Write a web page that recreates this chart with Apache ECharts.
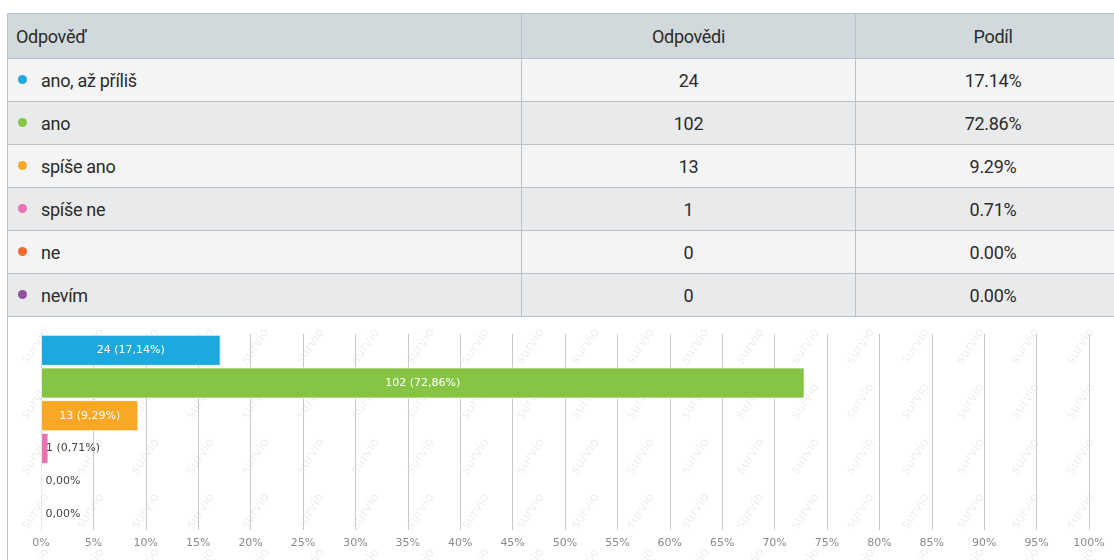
<!doctype html>
<html>
<head>
<meta charset="utf-8">
<title>Odpověď</title>
<script src="https://cdn.jsdelivr.net/npm/echarts@6/dist/echarts.min.js"></script>
<style>
    html,body{
        margin: 0;
        width: 1114px;
        height: 560px;
        overflow: hidden;
        background: #fff;
    }
    .result-table{
        position: absolute;
        left: 7px;
        top: 13px;
        width: 1124px;
        table-layout: fixed;
        border-collapse: collapse;
        font-family: Roboto, "Noto Sans", sans-serif;
        font-size: 18px;
        letter-spacing: -0.3px;
        color: #2b2b2b;
    }
    .result-table td, .result-table th{
        border: 1px solid #b7c3c8;
        padding: 0;
        font-weight: normal;
    }
    .result-table th{
        height: 44px;
        background: #d1d9dc;
    }
    .result-table td{
        height: 42px;
    }
    .result-table tr:nth-child(odd) td{ background: #f4f4f4; }
    .result-table tr:nth-child(even) td{ background: #e8eaeb; }
    .result-table .c1{ width: 505px; text-align: left; padding-left: 8px; }
    .result-table .c2{ width: 333px; text-align: center; }
    .result-table .c3{ text-align: center; }
    .dot{
        display: inline-block;
        width: 9px;
        height: 9px;
        border-radius: 50%;
        margin: 0 14px 0 2px;
        position: relative;
        top: -3px;
    }
    #bar_chart{
        position: absolute;
        left: 7px;
        top: 316px;
        width: 1107px;
        height: 244px;
        border-left: 1px solid #b7c3c8;
    }
</style>
</head>
<body>
    <table class="result-table">
        <thead>
            <tr><th class="c1">Odpověď</th><th class="c2">Odpovědi</th><th class="c3">Podíl</th></tr>
        </thead>
        <tbody id="rows"></tbody>
    </table>
    <div id="bar_chart"></div>

<script>
    var answers = ['ano, až příliš', 'ano', 'spíše ano', 'spíše ne', 'ne', 'nevím'];
    var counts = [24, 102, 13, 1, 0, 0];
    var shares = [17.14, 72.86, 9.29, 0.71, 0.00, 0.00];
    var colors = ['#1ea8e0', '#86c444', '#fba726', '#e872b3', '#f26b2b', '#9251a5'];
    var xTicks = [0, 100, 5];   // min, max, step

    // tabulka nad grafem
    var html = '';
    for (var i = 0; i < answers.length; i++) {
        html += '<tr><td class="c1"><span class="dot" style="background:' + colors[i] + '"></span>' + answers[i] + '</td>'
              + '<td class="c2">' + counts[i] + '</td>'
              + '<td class="c3">' + shares[i].toFixed(2) + '%</td></tr>';
    }
    document.getElementById('rows').innerHTML = html;

    // vodoznak survio
    function watermark() {
        var c = document.createElement('canvas');
        c.width = 55; c.height = 55;
        var ctx = c.getContext('2d');
        ctx.translate(27, 30);
        ctx.rotate(-Math.PI / 3.2);
        ctx.font = '13px "DejaVu Sans"';
        ctx.fillStyle = 'rgba(0,0,0,0.07)';
        ctx.textAlign = 'center';
        ctx.fillText('survio', 0, 4);
        return c;
    }

    function pct(v) {
        return v.toFixed(2).replace('.', ',') + '%';
    }

    var barData = shares.map(function (v, i) {
        var small = v < 3;
        return {
            value: v,
            itemStyle: { color: colors[i] },
            label: {
                position: small ? 'insideLeft' : 'inside',
                distance: 5,
                color: small ? '#444' : '#fff',
                formatter: counts[i] > 0 ? counts[i] + ' (' + pct(v) + ')' : pct(v)
            }
        };
    });

    var bar_chart = echarts.init(document.getElementById('bar_chart'));
    bar_chart.setOption({
        backgroundColor: { image: watermark(), repeat: 'repeat' },
        animation: false,
        grid: { left: 33, right: 26, top: 18, bottom: 30 },
        xAxis: {
            type: 'value',
            min: xTicks[0],
            max: xTicks[1],
            interval: xTicks[2],
            axisLine: { show: false },
            axisTick: { show: false },
            axisLabel: { formatter: '{value}%', color: '#8a8a8a', fontSize: 11, margin: 8, fontFamily: 'DejaVu Sans' },
            splitLine: { lineStyle: { color: '#c9c9c9', width: 1 } }
        },
        yAxis: {
            type: 'category',
            inverse: true,
            data: answers,
            axisLine: { lineStyle: { color: '#c6d6e6' } },
            axisTick: { alignWithLabel: true, length: 5, lineStyle: { color: '#c6d6e6' } },
            axisLabel: { show: false },
            splitLine: { show: false }
        },
        series: [{
            type: 'bar',
            data: barData,
            barCategoryGap: '5%',
            itemStyle: { borderColor: 'rgba(255,255,255,0.7)', borderWidth: 1 },
            label: { show: true, fontSize: 11, fontFamily: 'DejaVu Sans' }
        }]
    });
</script>
</body>
</html>
